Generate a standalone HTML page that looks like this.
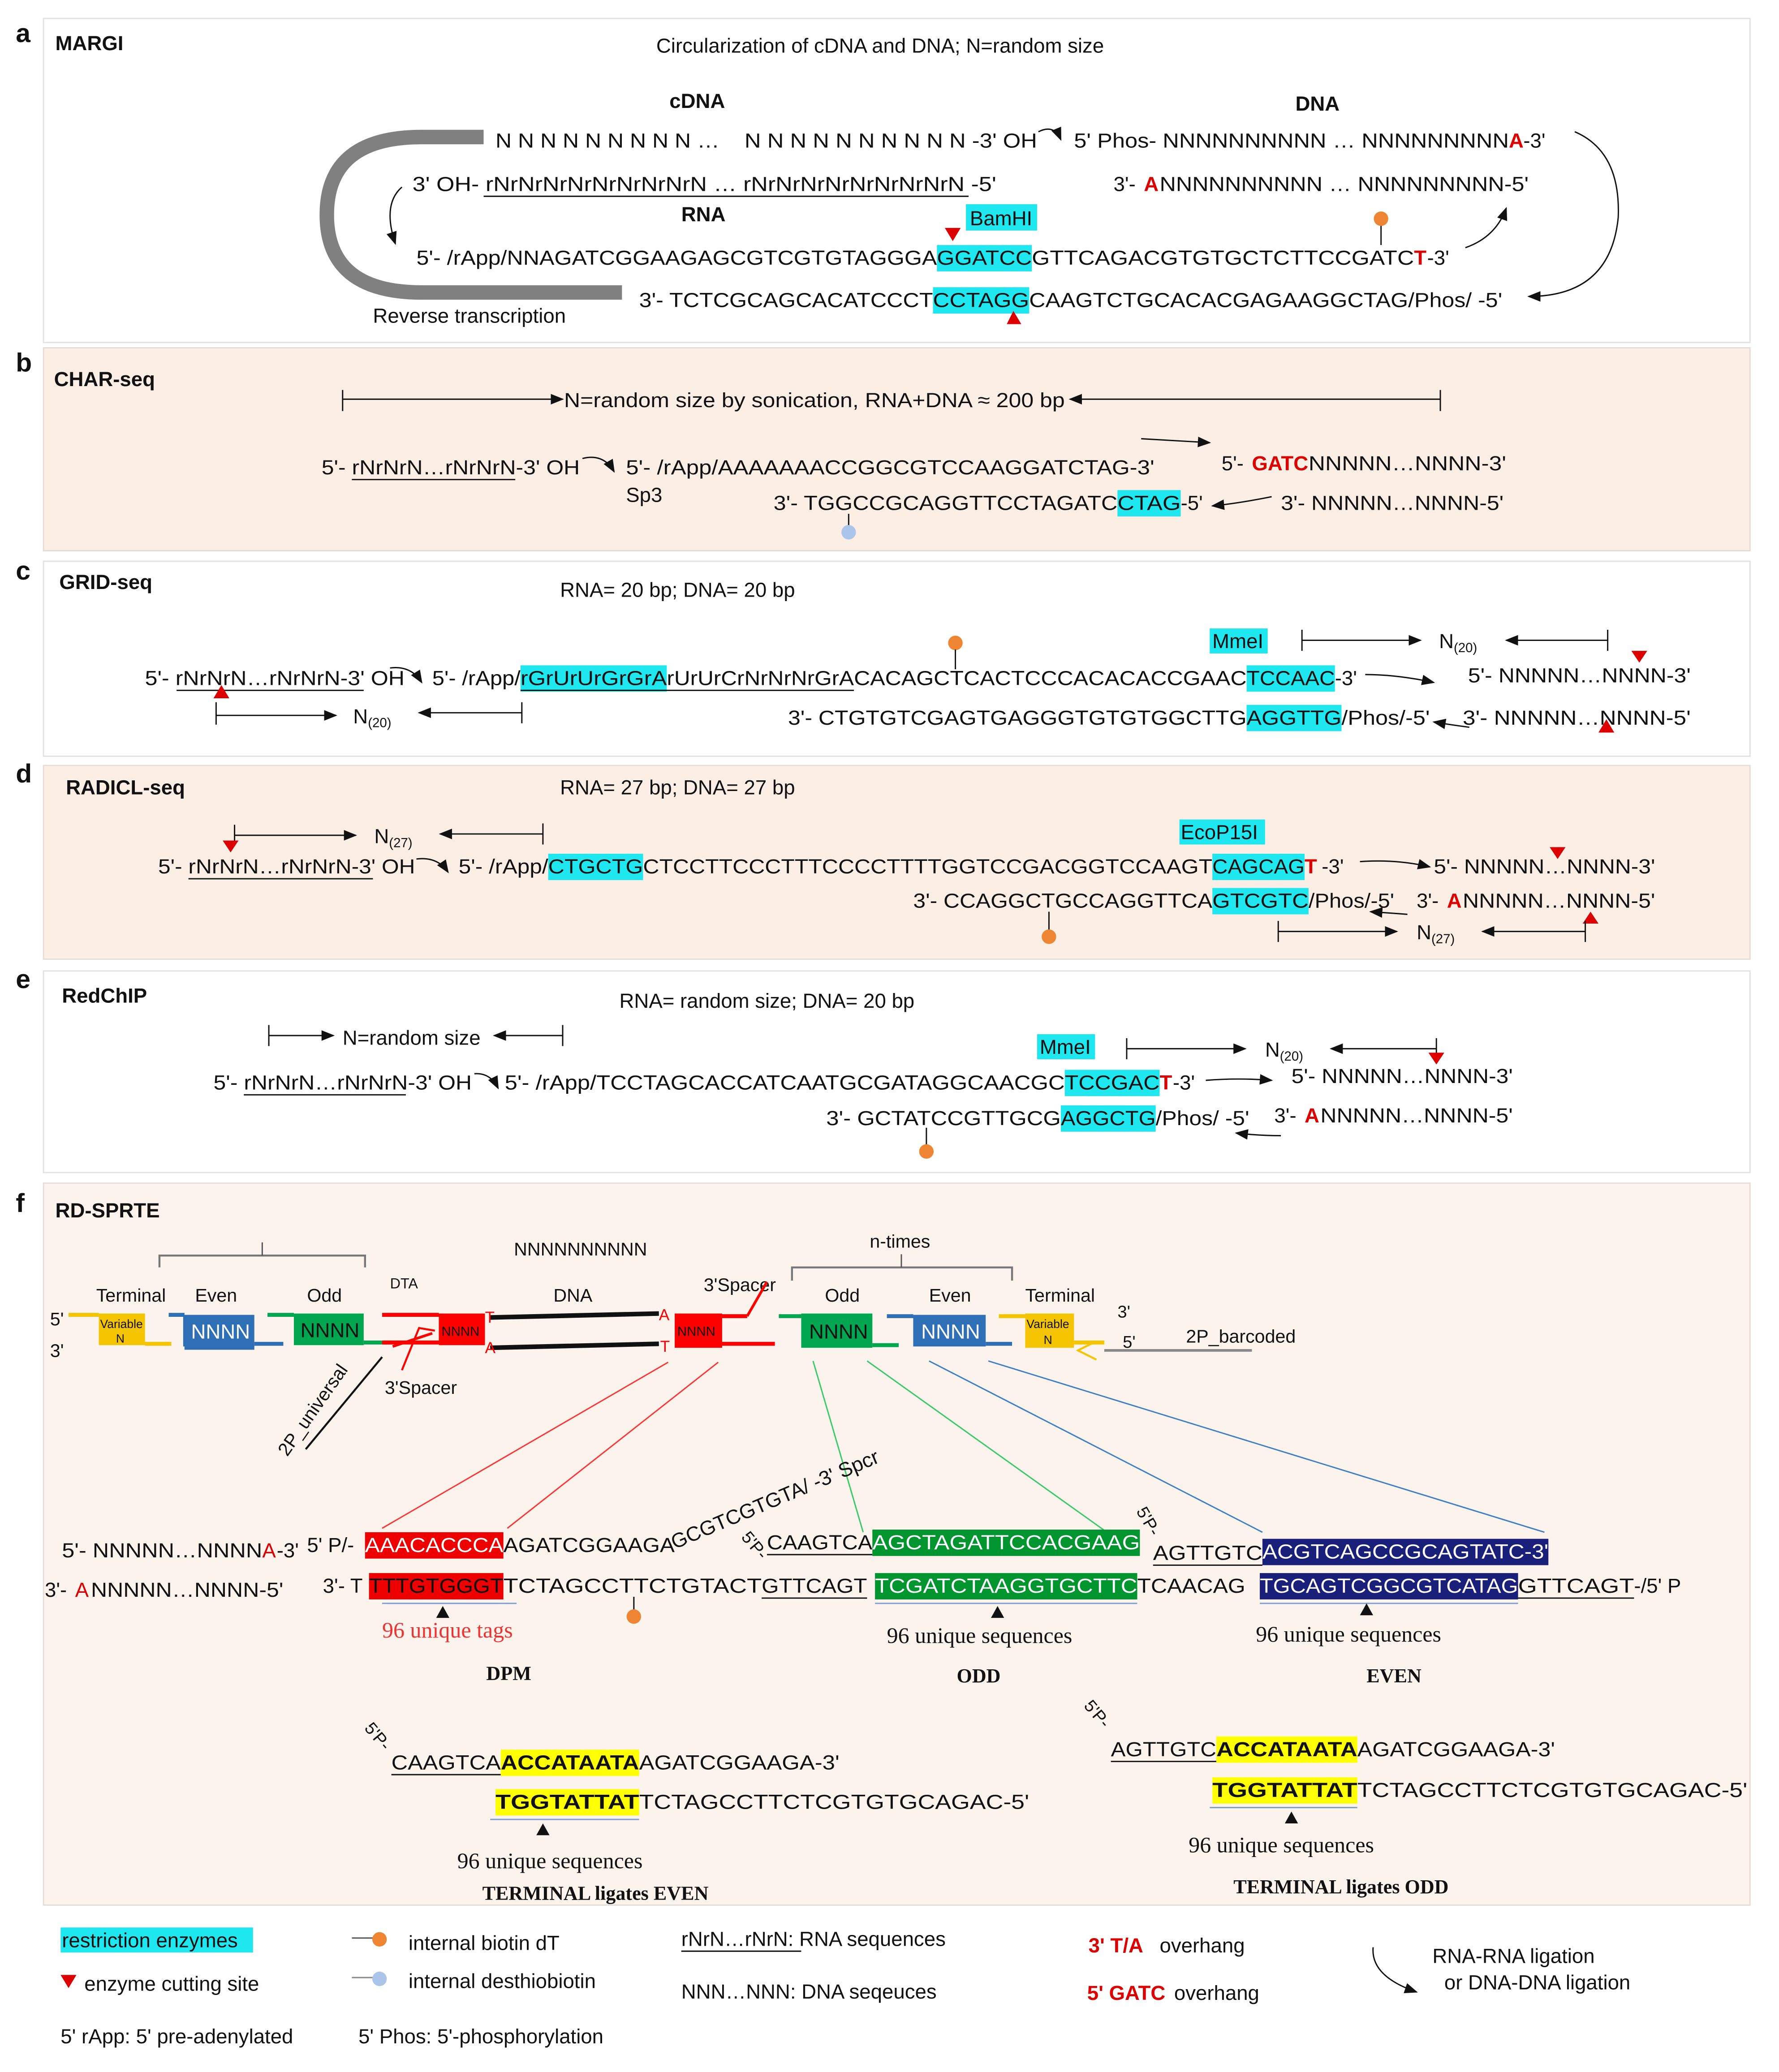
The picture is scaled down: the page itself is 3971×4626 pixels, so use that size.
<!DOCTYPE html>
<html><head><meta charset="utf-8"><style>
html,body{margin:0;padding:0;background:#fff;}
svg{display:block;}
text{font-family:"Liberation Sans",sans-serif;font-size:15.5px;fill:#111;}
.b{font-weight:bold;}
.sr{font-family:"Liberation Serif",serif;}
.w{fill:#fff;}
.r{fill:#d00;font-weight:bold;}
</style></head><body>
<svg width="3971" height="4626" viewBox="0 0 1350 1572.7" preserveAspectRatio="none" xmlns="http://www.w3.org/2000/svg">
<defs>
<marker id="ah" markerWidth="10" markerHeight="8" refX="9" refY="4" orient="auto" markerUnits="userSpaceOnUse"><path d="M0,0 L10,4 L0,8 z" fill="#111"/></marker>
</defs>
<rect width="1350" height="1573" fill="#fff"/>
<rect x="33" y="14" width="1295" height="246" fill="#fff" stroke="#e2e2e2"/>
<rect x="33" y="264" width="1295" height="154" fill="#fbeee5" stroke="#e6ddd6"/>
<rect x="33" y="426" width="1295" height="148" fill="#fff" stroke="#e2e2e2"/>
<rect x="33" y="581" width="1295" height="147" fill="#fbeee5" stroke="#e6ddd6"/>
<rect x="33" y="737" width="1295" height="153" fill="#fff" stroke="#e2e2e2"/>
<rect x="33" y="898" width="1295" height="548" fill="#fcf3ed" stroke="#e6ddd6"/>
<g>
<text x="12" y="32" style="font-size:20px" class="b">a</text>
<text x="12" y="282" style="font-size:20px" class="b">b</text>
<text x="12" y="440" style="font-size:20px" class="b">c</text>
<text x="12" y="594" style="font-size:20px" class="b">d</text>
<text x="12" y="750" style="font-size:20px" class="b">e</text>
<text x="12" y="920" style="font-size:20px" class="b">f</text>
</g>

<!-- ===== Panel a ===== -->
<text x="42" y="38" class="b">MARGI</text>
<text x="498" y="40">Circularization of cDNA and DNA; N=random size</text>
<text x="508" y="82" class="b">cDNA</text>
<text x="983" y="84" class="b">DNA</text>
<path d="M367,104 L320,104 Q248,104 248,163 Q248,222 320,222 L472,222" fill="none" stroke="#808080" stroke-width="11"/>
<text x="376" y="112" textLength="170" lengthAdjust="spacingAndGlyphs">N N N N N N N N N …</text>
<text x="565" y="112" textLength="222" lengthAdjust="spacingAndGlyphs">N N N N N N N N N N  -3' OH</text>
<path d="M788,100 Q800,94 805,106" fill="none" stroke="#111" marker-end="url(#ah)"/>
<text x="815" y="112" textLength="330" lengthAdjust="spacingAndGlyphs">5' Phos- NNNNNNNNNN … NNNNNNNNN</text>
<text x="1145" y="112" class="r">A</text><text x="1156" y="112">-3'</text>
<text x="313" y="145" textLength="443" lengthAdjust="spacingAndGlyphs">3' OH- rNrNrNrNrNrNrNrNrN … rNrNrNrNrNrNrNrNrN -5'</text>
<line x1="367" y1="149" x2="735" y2="149" stroke="#111"/>
<text x="845" y="145">3'-</text>
<text x="868" y="145" class="r">A</text>
<text x="880" y="145" textLength="280" lengthAdjust="spacingAndGlyphs">NNNNNNNNNN … NNNNNNNNN-5'</text>
<text x="517" y="168" class="b">RNA</text>
<rect x="733" y="155" width="54" height="20" fill="#1fe7ef"/><text x="736" y="171">BamHI</text>
<path d="M305,142 Q290,155 300,185" fill="none" stroke="#111" marker-end="url(#ah)"/>
<text x="316" y="201" textLength="395" lengthAdjust="spacingAndGlyphs">5'- /rApp/NNAGATCGGAAGAGCGTCGTGTAGGGA</text>
<rect x="711" y="186" width="72" height="20" fill="#1fe7ef"/>
<text x="711" y="201" textLength="72" lengthAdjust="spacingAndGlyphs">GGATCC</text>
<text x="783" y="201" textLength="290" lengthAdjust="spacingAndGlyphs">GTTCAGACGTGTGCTCTTCCGATC</text>
<text x="1073" y="201" class="r">T</text><text x="1083" y="201">-3'</text>
<path d="M717,173 L729,173 L723,183 z" fill="#d00"/>
<line x1="1048" y1="168" x2="1048" y2="186" stroke="#111"/><circle cx="1048" cy="166" r="5.5" fill="#ee8533"/>
<path d="M1112,188 Q1135,180 1143,158" fill="none" stroke="#111" marker-end="url(#ah)"/>
<path d="M1195,100 Q1230,115 1228,165 Q1222,225 1160,225" fill="none" stroke="#111" marker-end="url(#ah)"/>
<text x="485" y="233" textLength="223" lengthAdjust="spacingAndGlyphs">3'- TCTCGCAGCACATCCCT</text>
<rect x="708" y="218" width="73" height="20" fill="#1fe7ef"/>
<text x="708" y="233" textLength="73" lengthAdjust="spacingAndGlyphs">CCTAGG</text>
<text x="781" y="233" textLength="359" lengthAdjust="spacingAndGlyphs">CAAGTCTGCACACGAGAAGGCTAG/Phos/ -5'</text>
<path d="M764,246 L775,246 L769,236 z" fill="#d00"/>
<text x="283" y="245">Reverse  transcription</text>

<!-- ===== Panel b ===== -->
<text x="41" y="293" class="b">CHAR-seq</text>
<line x1="260" y1="296" x2="260" y2="312" stroke="#111"/>
<line x1="260" y1="303" x2="427" y2="303" stroke="#111" marker-end="url(#ah)"/>
<text x="428" y="309" textLength="380" lengthAdjust="spacingAndGlyphs">N=random size by sonication, RNA+DNA ≈ 200 bp</text>
<line x1="1093" y1="303" x2="812" y2="303" stroke="#111" marker-end="url(#ah)"/>
<line x1="1093" y1="296" x2="1093" y2="312" stroke="#111"/>
<text x="244" y="360" textLength="196" lengthAdjust="spacingAndGlyphs">5'- rNrNrN…rNrNrN-3' OH</text>
<line x1="267" y1="364" x2="391" y2="364" stroke="#111"/>
<path d="M442,348 Q458,344 466,358" fill="none" stroke="#111" marker-end="url(#ah)"/>
<text x="475" y="360" textLength="401" lengthAdjust="spacingAndGlyphs">5'- /rApp/AAAAAAACCGGCGTCCAAGGATCTAG-3'</text>
<text x="475" y="381">Sp3</text>
<line x1="866" y1="333" x2="918" y2="336" stroke="#111" marker-end="url(#ah)"/>
<text x="927" y="357">5'- </text><text x="950" y="357" class="r">GATC</text>
<text x="993" y="357" textLength="150" lengthAdjust="spacingAndGlyphs">NNNNN…NNNN-3'</text>
<text x="587" y="387" textLength="261" lengthAdjust="spacingAndGlyphs">3'- TGGCCGCAGGTTCCTAGATC</text>
<rect x="848" y="372" width="48" height="20" fill="#1fe7ef"/>
<text x="848" y="387" textLength="48" lengthAdjust="spacingAndGlyphs">CTAG</text>
<text x="896" y="387">-5'</text>
<path d="M965,377 Q940,382 920,384" fill="none" stroke="#111" marker-end="url(#ah)"/>
<text x="972" y="387" textLength="169" lengthAdjust="spacingAndGlyphs">3'- NNNNN…NNNN-5'</text>
<line x1="644" y1="390" x2="644" y2="402" stroke="#111"/><circle cx="644" cy="404" r="5.5" fill="#aac4ea"/>

<!-- ===== Panel c ===== -->
<text x="45" y="447" class="b">GRID-seq</text>
<text x="425" y="453">RNA= 20 bp; DNA= 20 bp</text>
<rect x="918" y="477" width="44" height="19" fill="#1fe7ef"/><text x="920" y="492">MmeI</text>
<line x1="988" y1="478" x2="988" y2="494" stroke="#111"/>
<line x1="988" y1="486" x2="1078" y2="486" stroke="#111" marker-end="url(#ah)"/>
<text x="1092" y="492">N<tspan style="font-size:10px" dy="3">(20)</tspan></text>
<line x1="1220" y1="486" x2="1143" y2="486" stroke="#111" marker-end="url(#ah)"/>
<line x1="1220" y1="478" x2="1220" y2="494" stroke="#111"/>
<circle cx="725" cy="488" r="5.5" fill="#ee8533"/><line x1="725" y1="493" x2="725" y2="508" stroke="#111"/>
<text x="110" y="520" textLength="197" lengthAdjust="spacingAndGlyphs">5'- rNrNrN…rNrNrN-3' OH</text>
<line x1="134" y1="524" x2="276" y2="524" stroke="#111"/>
<path d="M296,507 Q312,505 320,518" fill="none" stroke="#111" marker-end="url(#ah)"/>
<text x="328" y="520" textLength="67" lengthAdjust="spacingAndGlyphs">5'- /rApp/</text>
<rect x="395" y="505" width="111" height="20" fill="#1fe7ef"/>
<text x="395" y="520" textLength="111" lengthAdjust="spacingAndGlyphs">rGrUrUrGrGrA</text>
<text x="506" y="520" textLength="142" lengthAdjust="spacingAndGlyphs">rUrUrCrNrNrNrGrA</text>
<line x1="395" y1="524" x2="648" y2="524" stroke="#111"/>
<text x="648" y="520" textLength="298" lengthAdjust="spacingAndGlyphs">CACAGCTCACTCCCACACACCGAAC</text>
<rect x="946" y="505" width="67" height="20" fill="#1fe7ef"/>
<text x="946" y="520" textLength="67" lengthAdjust="spacingAndGlyphs">TCCAAC</text>
<text x="1013" y="520">-3'</text>
<path d="M1036,512 Q1060,512 1088,518" fill="none" stroke="#111" marker-end="url(#ah)"/>
<text x="1114" y="518" textLength="169" lengthAdjust="spacingAndGlyphs">5'- NNNNN…NNNN-3'</text>
<path d="M1238,494 L1250,494 L1244,503 z" fill="#d00"/>
<path d="M162,530 L174,530 L168,520 z" fill="#d00"/>
<line x1="164" y1="533" x2="164" y2="550" stroke="#111"/>
<line x1="164" y1="543" x2="255" y2="543" stroke="#111" marker-end="url(#ah)"/>
<text x="268" y="549">N<tspan style="font-size:10px" dy="3">(20)</tspan></text>
<line x1="396" y1="541" x2="318" y2="541" stroke="#111" marker-end="url(#ah)"/>
<line x1="396" y1="533" x2="396" y2="549" stroke="#111"/>
<text x="598" y="550" textLength="348" lengthAdjust="spacingAndGlyphs">3'- CTGTGTCGAGTGAGGGTGTGTGGCTTG</text>
<rect x="946" y="535" width="72" height="20" fill="#1fe7ef"/>
<text x="946" y="550" textLength="72" lengthAdjust="spacingAndGlyphs">AGGTTG</text>
<text x="1018" y="550" textLength="67" lengthAdjust="spacingAndGlyphs">/Phos/-5'</text>
<path d="M1115,552 Q1100,550 1088,548" fill="none" stroke="#111" marker-end="url(#ah)"/>
<text x="1110" y="550" textLength="173" lengthAdjust="spacingAndGlyphs">3'- NNNNN…NNNN-5'</text>
<path d="M1213,556 L1225,556 L1219,546 z" fill="#d00"/>

<!-- ===== Panel d ===== -->
<text x="50" y="603" class="b">RADICL-seq</text>
<text x="425" y="603">RNA= 27 bp; DNA= 27 bp</text>
<line x1="178" y1="626" x2="178" y2="642" stroke="#111"/>
<line x1="178" y1="634" x2="270" y2="634" stroke="#111" marker-end="url(#ah)"/>
<text x="284" y="640">N<tspan style="font-size:10px" dy="3">(27)</tspan></text>
<line x1="412" y1="633" x2="334" y2="633" stroke="#111" marker-end="url(#ah)"/>
<line x1="412" y1="625" x2="412" y2="641" stroke="#111"/>
<path d="M169,638 L181,638 L175,647 z" fill="#d00"/>
<rect x="895" y="622" width="65" height="19" fill="#1fe7ef"/><text x="896" y="637">EcoP15I</text>
<text x="120" y="663" textLength="195" lengthAdjust="spacingAndGlyphs">5'- rNrNrN…rNrNrN-3' OH</text>
<line x1="143" y1="667" x2="283" y2="667" stroke="#111"/>
<path d="M316,652 Q332,650 340,662" fill="none" stroke="#111" marker-end="url(#ah)"/>
<text x="348" y="663" textLength="68" lengthAdjust="spacingAndGlyphs">5'- /rApp/</text>
<rect x="416" y="648" width="72" height="20" fill="#1fe7ef"/>
<text x="416" y="663" textLength="72" lengthAdjust="spacingAndGlyphs">CTGCTG</text>
<text x="488" y="663" textLength="432" lengthAdjust="spacingAndGlyphs">CTCCTTCCCTTTCCCCTTTTGGTCCGACGGTCCAAGT</text>
<rect x="920" y="648" width="70" height="20" fill="#1fe7ef"/>
<text x="920" y="663" textLength="70" lengthAdjust="spacingAndGlyphs">CAGCAG</text>
<text x="990" y="663" class="r">T</text><text x="1003" y="663"> -3'</text>
<path d="M1032,654 Q1060,652 1085,658" fill="none" stroke="#111" marker-end="url(#ah)"/>
<text x="1088" y="663" textLength="168" lengthAdjust="spacingAndGlyphs">5'- NNNNN…NNNN-3'</text>
<path d="M1176,643 L1188,643 L1182,652 z" fill="#d00"/>
<text x="693" y="689" textLength="227" lengthAdjust="spacingAndGlyphs">3'- CCAGGCTGCCAGGTTCA</text>
<rect x="920" y="674" width="73" height="20" fill="#1fe7ef"/>
<text x="920" y="689" textLength="73" lengthAdjust="spacingAndGlyphs">GTCGTC</text>
<text x="993" y="689" textLength="65" lengthAdjust="spacingAndGlyphs">/Phos/-5'</text>
<path d="M1068,694 Q1055,693 1040,692" fill="none" stroke="#111" marker-end="url(#ah)"/>
<text x="1075" y="689">3'- </text><text x="1098" y="689" class="r">A</text>
<text x="1110" y="689" textLength="146" lengthAdjust="spacingAndGlyphs">NNNNN…NNNN-5'</text>
<path d="M1201,701 L1213,701 L1207,692 z" fill="#d00"/>
<line x1="796" y1="692" x2="796" y2="706" stroke="#111"/><circle cx="796" cy="711" r="5.5" fill="#ee8533"/>
<line x1="970" y1="699" x2="970" y2="715" stroke="#111"/>
<line x1="970" y1="707" x2="1060" y2="707" stroke="#111" marker-end="url(#ah)"/>
<text x="1075" y="713">N<tspan style="font-size:10px" dy="3">(27)</tspan></text>
<line x1="1203" y1="707" x2="1125" y2="707" stroke="#111" marker-end="url(#ah)"/>
<line x1="1203" y1="699" x2="1203" y2="715" stroke="#111"/>

<!-- ===== Panel e ===== -->
<text x="47" y="761" class="b">RedChIP</text>
<text x="470" y="765">RNA= random size; DNA= 20 bp</text>
<line x1="204" y1="778" x2="204" y2="794" stroke="#111"/>
<line x1="204" y1="786" x2="253" y2="786" stroke="#111" marker-end="url(#ah)"/>
<text x="260" y="793">N=random size</text>
<line x1="427" y1="786" x2="375" y2="786" stroke="#111" marker-end="url(#ah)"/>
<line x1="427" y1="778" x2="427" y2="794" stroke="#111"/>
<rect x="787" y="785" width="44" height="19" fill="#1fe7ef"/><text x="789" y="800">MmeI</text>
<line x1="855" y1="788" x2="855" y2="804" stroke="#111"/>
<line x1="855" y1="796" x2="945" y2="796" stroke="#111" marker-end="url(#ah)"/>
<text x="960" y="802">N<tspan style="font-size:10px" dy="3">(20)</tspan></text>
<line x1="1090" y1="796" x2="1010" y2="796" stroke="#111" marker-end="url(#ah)"/>
<line x1="1090" y1="788" x2="1090" y2="800" stroke="#111"/>
<path d="M1084,799 L1096,799 L1090,808 z" fill="#d00"/>
<text x="162" y="827" textLength="196" lengthAdjust="spacingAndGlyphs">5'- rNrNrN…rNrNrN-3' OH</text>
<line x1="185" y1="831" x2="308" y2="831" stroke="#111"/>
<path d="M360,815 Q372,814 378,826" fill="none" stroke="#111" marker-end="url(#ah)"/>
<text x="383" y="827" textLength="425" lengthAdjust="spacingAndGlyphs">5'- /rApp/TCCTAGCACCATCAATGCGATAGGCAACGC</text>
<rect x="808" y="812" width="72" height="20" fill="#1fe7ef"/>
<text x="808" y="827" textLength="72" lengthAdjust="spacingAndGlyphs">TCCGAC</text>
<text x="880" y="827" class="r">T</text><text x="890" y="827">-3'</text>
<path d="M915,820 Q940,818 965,820" fill="none" stroke="#111" marker-end="url(#ah)"/>
<text x="980" y="822" textLength="168" lengthAdjust="spacingAndGlyphs">5'- NNNNN…NNNN-3'</text>
<text x="627" y="854" textLength="178" lengthAdjust="spacingAndGlyphs">3'- GCTATCCGTTGCG</text>
<rect x="805" y="839" width="72" height="20" fill="#1fe7ef"/>
<text x="805" y="854" textLength="72" lengthAdjust="spacingAndGlyphs">AGGCTG</text>
<text x="877" y="854" textLength="71" lengthAdjust="spacingAndGlyphs">/Phos/ -5'</text>
<path d="M972,862 Q955,862 938,860" fill="none" stroke="#111" marker-end="url(#ah)"/>
<text x="967" y="852">3'- </text><text x="990" y="852" class="r">A</text>
<text x="1002" y="852" textLength="146" lengthAdjust="spacingAndGlyphs">NNNNN…NNNN-5'</text>
<line x1="703" y1="856" x2="703" y2="869" stroke="#111"/><circle cx="703" cy="874" r="5.5" fill="#ee8533"/>

<!-- ===== Panel f ===== -->
<text x="42" y="924" class="b">RD-SPRTE</text>
<path d="M121,962 L121,953 L277,953 L277,962" fill="none" stroke="#777" stroke-width="1.5"/>
<line x1="199" y1="953" x2="199" y2="943" stroke="#555"/>
<text x="390" y="953" style="font-size:14px">NNNNNNNNNN</text>
<text x="660" y="947" style="font-size:14px">n-times</text>
<path d="M601,972 L601,962 L768,962 L768,972" fill="none" stroke="#777" stroke-width="1.5"/>
<line x1="684" y1="962" x2="684" y2="952" stroke="#555"/>
<g>
<text x="73" y="988" style="font-size:14px">Terminal</text>
<text x="148" y="988" style="font-size:14px">Even</text>
<text x="233" y="988" style="font-size:14px">Odd</text>
<text x="296" y="978" style="font-size:11px">DTA</text>
<text x="420" y="988" style="font-size:14px">DNA</text>
<text x="534" y="980" style="font-size:14px">3'Spacer</text>
<text x="626" y="988" style="font-size:14px">Odd</text>
<text x="705" y="988" style="font-size:14px">Even</text>
<text x="778" y="988" style="font-size:14px">Terminal</text>
<text x="38" y="1006" style="font-size:14px">5'</text>
<text x="38" y="1030" style="font-size:14px">3'</text>
<text x="848" y="1000" style="font-size:13px">3'</text>
<text x="852" y="1023" style="font-size:13px">5'</text>
<text x="900" y="1019" style="font-size:14px">2P_barcoded</text>
<text x="292" y="1058" style="font-size:14px">3'Spacer</text>
</g>
<g stroke-width="3">
<line x1="52" y1="998" x2="75" y2="998" stroke="#f5c400"/>
<line x1="110" y1="1020" x2="130" y2="1020" stroke="#f5c400"/>
<line x1="128" y1="998" x2="140" y2="998" stroke="#2e6fb5"/>
<line x1="193" y1="1020" x2="215" y2="1020" stroke="#2e6fb5"/>
<line x1="140" y1="1023" x2="193" y2="1023" stroke="#2e6fb5"/>
<line x1="203" y1="998" x2="223" y2="998" stroke="#00a650"/>
<line x1="276" y1="1019" x2="297" y2="1019" stroke="#00a650"/>
<line x1="290" y1="998" x2="333" y2="998" stroke="#f00"/>
<line x1="290" y1="1019" x2="333" y2="1019" stroke="#f00"/>
<line x1="372" y1="1000" x2="500" y2="997" stroke="#111" stroke-width="3.5"/>
<line x1="372" y1="1023" x2="500" y2="1020" stroke="#111" stroke-width="3.5"/>
<line x1="548" y1="999" x2="567" y2="999" stroke="#f00"/>
<line x1="548" y1="1020" x2="588" y2="1020" stroke="#f00"/>
<line x1="591" y1="999" x2="608" y2="999" stroke="#00a650"/>
<line x1="662" y1="1021" x2="682" y2="1021" stroke="#00a650"/>
<line x1="673" y1="999" x2="693" y2="999" stroke="#2e6fb5"/>
<line x1="748" y1="1020" x2="768" y2="1020" stroke="#2e6fb5"/>
<line x1="758" y1="999" x2="778" y2="999" stroke="#f5c400"/>
<line x1="815" y1="1019" x2="838" y2="1019" stroke="#f5c400"/>
</g>
<line x1="567" y1="999" x2="582" y2="973" stroke="#f00" stroke-width="2"/>
<line x1="838" y1="1025" x2="950" y2="1025" stroke="#888" stroke-width="2"/>
<path d="M830,1019 L818,1025 L832,1032" fill="none" stroke="#f5c400" stroke-width="1.5"/>
<line x1="298" y1="1022" x2="328" y2="1012" stroke="#f00" stroke-width="2"/>
<path d="M305,1040 L318,1008 L330,1010" fill="none" stroke="#f00" stroke-width="1.5"/>
<line x1="232" y1="1100" x2="290" y2="1030" stroke="#111" stroke-width="1.5"/>
<text transform="translate(218,1106) rotate(-55)" style="font-size:14px">2P_universal</text>
<rect x="75" y="997" width="35" height="24" fill="#f5c400"/>
<text x="76" y="1008" style="font-size:9px">Variable</text><text x="88" y="1019" style="font-size:9px">N</text>
<rect x="139" y="998" width="54" height="24" fill="#2e6fb5"/><text x="145" y="1016" class="w">NNNN</text>
<rect x="223" y="997" width="53" height="24" fill="#00a650"/><text x="228" y="1015">NNNN</text>
<rect x="333" y="997" width="35" height="24" fill="#f00"/><text x="335" y="1014" style="font-size:10px">NNNN</text>
<text x="368" y="1004" style="font-size:12px;fill:#f00">T</text><text x="368" y="1027" style="font-size:12px;fill:#f00">A</text>
<text x="500" y="1002" style="font-size:12px;fill:#f00">A</text><text x="501" y="1026" style="font-size:12px;fill:#f00">T</text>
<rect x="512" y="997" width="36" height="26" fill="#f00"/><text x="514" y="1014" style="font-size:10px">NNNN</text>
<rect x="608" y="997" width="54" height="26" fill="#00a650"/><text x="614" y="1016">NNNN</text>
<rect x="693" y="998" width="55" height="24" fill="#2e6fb5"/><text x="699" y="1016" class="w">NNNN</text>
<rect x="778" y="997" width="37" height="26" fill="#f5c400"/>
<text x="779" y="1008" style="font-size:9px">Variable</text><text x="792" y="1020" style="font-size:9px">N</text>
<line x1="507" y1="1034" x2="290" y2="1160" stroke="#f33" stroke-width="1"/>
<line x1="545" y1="1034" x2="385" y2="1160" stroke="#f33" stroke-width="1"/>
<line x1="617" y1="1033" x2="655" y2="1163" stroke="#3c6" stroke-width="1"/>
<line x1="658" y1="1033" x2="840" y2="1163" stroke="#3c6" stroke-width="1"/>
<line x1="705" y1="1033" x2="958" y2="1163" stroke="#3a7fcc" stroke-width="1"/>
<line x1="750" y1="1033" x2="1172" y2="1163" stroke="#3a7fcc" stroke-width="1"/>
<text x="47" y="1182" textLength="152" lengthAdjust="spacingAndGlyphs">5'- NNNNN…NNNN</text><text x="199" y="1182" style="fill:#d00">A</text><text x="210" y="1182">-3'</text>
<text x="233" y="1178">5' P/-</text>
<rect x="277" y="1163" width="105" height="20" fill="#e00"/>
<text x="277" y="1178" class="w" textLength="105" lengthAdjust="spacingAndGlyphs">AAACACCCA</text>
<text x="382" y="1178" textLength="130" lengthAdjust="spacingAndGlyphs">AGATCGGAAGA</text>
<text transform="translate(512,1176) rotate(-23)">GCGTCGTGTA/ -3' Spcr</text>
<text transform="translate(562,1167) rotate(50)" style="font-size:13px">5'P-</text>
<text x="582" y="1176" textLength="80" lengthAdjust="spacingAndGlyphs">CAAGTCA</text>
<line x1="582" y1="1180" x2="662" y2="1180" stroke="#111"/>
<rect x="662" y="1161" width="203" height="20" fill="#00952f"/>
<text x="662" y="1176" class="w" textLength="203" lengthAdjust="spacingAndGlyphs">AGCTAGATTCCACGAAG</text>
<text transform="translate(862,1147) rotate(60)" style="font-size:13px">5'P-</text>
<text x="875" y="1184" textLength="83" lengthAdjust="spacingAndGlyphs">AGTTGTC</text>
<line x1="875" y1="1188" x2="958" y2="1188" stroke="#111"/>
<rect x="958" y="1168" width="217" height="20" fill="#1a1f7a"/>
<text x="958" y="1183" class="w" textLength="217" lengthAdjust="spacingAndGlyphs">ACGTCAGCCGCAGTATC-3'</text>
<text x="34" y="1212">3'- </text><text x="57" y="1212" style="fill:#d00">A</text><text x="69" y="1212" textLength="146" lengthAdjust="spacingAndGlyphs">NNNNN…NNNN-5'</text>
<text x="245" y="1209">3'- T</text>
<rect x="280" y="1194" width="102" height="20" fill="#e00"/>
<text x="280" y="1209" textLength="102" lengthAdjust="spacingAndGlyphs">TTTGTGGGT</text>
<text x="382" y="1209" textLength="196" lengthAdjust="spacingAndGlyphs">TCTAGCCTTCTGTACT</text>
<text x="578" y="1209" textLength="80" lengthAdjust="spacingAndGlyphs">GTTCAGT</text>
<line x1="578" y1="1213" x2="658" y2="1213" stroke="#111"/>
<rect x="664" y="1194" width="199" height="20" fill="#00952f"/>
<text x="664" y="1209" class="w" textLength="199" lengthAdjust="spacingAndGlyphs">TCGATCTAAGGTGCTTC</text>
<text x="863" y="1209" textLength="82" lengthAdjust="spacingAndGlyphs">TCAACAG</text>
<rect x="956" y="1194" width="196" height="20" fill="#1a1f7a"/>
<text x="956" y="1209" class="w" textLength="196" lengthAdjust="spacingAndGlyphs">TGCAGTCGGCGTCATAG</text>
<text x="1152" y="1209" textLength="88" lengthAdjust="spacingAndGlyphs">GTTCAGT</text>
<line x1="1152" y1="1213" x2="1240" y2="1213" stroke="#111"/>
<text x="1240" y="1209">-/5' P</text>
<line x1="290" y1="1217" x2="392" y2="1217" stroke="#7b9fd4"/>
<line x1="664" y1="1217" x2="863" y2="1217" stroke="#7b9fd4"/>
<line x1="956" y1="1217" x2="1152" y2="1217" stroke="#7b9fd4"/>
<path d="M331,1228 L341,1228 L336,1219 z" fill="#111"/>
<path d="M752,1228 L762,1228 L757,1219 z" fill="#111"/>
<path d="M1032,1226 L1042,1226 L1037,1217 z" fill="#111"/>
<line x1="481" y1="1212" x2="481" y2="1222" stroke="#111"/><circle cx="481" cy="1227" r="5.5" fill="#ee8533"/>
<text x="290" y="1243" class="sr" style="font-size:17px;fill:#e33">96 unique tags</text>
<text x="673" y="1247" class="sr" style="font-size:17px">96 unique sequences</text>
<text x="953" y="1246" class="sr" style="font-size:17px">96 unique sequences</text>
<text x="369" y="1275" class="sr b" style="font-size:15px">DPM</text>
<text x="726" y="1277" class="sr b" style="font-size:15px">ODD</text>
<text x="1037" y="1277" class="sr b" style="font-size:15px">EVEN</text>
<text transform="translate(276,1312) rotate(50)" style="font-size:13px">5'P-</text>
<text x="297" y="1343" textLength="83" lengthAdjust="spacingAndGlyphs">CAAGTCA</text>
<line x1="297" y1="1347" x2="380" y2="1347" stroke="#111"/>
<rect x="380" y="1328" width="105" height="20" fill="#ffff00"/>
<text x="380" y="1343" class="b" textLength="105" lengthAdjust="spacingAndGlyphs">ACCATAATA</text>
<text x="485" y="1343" textLength="152" lengthAdjust="spacingAndGlyphs">AGATCGGAAGA-3'</text>
<rect x="376" y="1358" width="109" height="20" fill="#ffff00"/>
<text x="376" y="1373" class="b" textLength="109" lengthAdjust="spacingAndGlyphs">TGGTATTAT</text>
<text x="485" y="1373" textLength="296" lengthAdjust="spacingAndGlyphs">TCTAGCCTTCTCGTGTGCAGAC-5'</text>
<line x1="372" y1="1381" x2="485" y2="1381" stroke="#7b9fd4"/>
<path d="M407,1393 L417,1393 L412,1384 z" fill="#111"/>
<text x="347" y="1418" class="sr" style="font-size:17px">96 unique sequences</text>
<text x="366" y="1442" class="sr b" style="font-size:15px">TERMINAL ligates EVEN</text>
<text transform="translate(822,1295) rotate(50)" style="font-size:13px">5'P-</text>
<text x="843" y="1333" textLength="80" lengthAdjust="spacingAndGlyphs">AGTTGTC</text>
<line x1="843" y1="1337" x2="923" y2="1337" stroke="#111"/>
<rect x="923" y="1318" width="107" height="20" fill="#ffff00"/>
<text x="923" y="1333" class="b" textLength="107" lengthAdjust="spacingAndGlyphs">ACCATAATA</text>
<text x="1030" y="1333" textLength="150" lengthAdjust="spacingAndGlyphs">AGATCGGAAGA-3'</text>
<rect x="920" y="1349" width="110" height="20" fill="#ffff00"/>
<text x="920" y="1364" class="b" textLength="110" lengthAdjust="spacingAndGlyphs">TGGTATTAT</text>
<text x="1030" y="1364" textLength="296" lengthAdjust="spacingAndGlyphs">TCTAGCCTTCTCGTGTGCAGAC-5'</text>
<line x1="918" y1="1372" x2="1030" y2="1372" stroke="#7b9fd4"/>
<path d="M975,1384 L985,1384 L980,1375 z" fill="#111"/>
<text x="902" y="1406" class="sr" style="font-size:17px">96 unique sequences</text>
<text x="936" y="1437" class="sr b" style="font-size:15px">TERMINAL ligates ODD</text>

<!-- ===== Legend ===== -->
<rect x="46" y="1463" width="146" height="19" fill="#1fe7ef"/>
<text x="47" y="1478">restriction enzymes</text>
<path d="M46,1499 L58,1499 L52,1509 z" fill="#d00"/>
<text x="64" y="1511">enzyme cutting site</text>
<text x="46" y="1551">5' rApp:  5' pre-adenylated</text>
<text x="272" y="1551">5' Phos: 5'-phosphorylation</text>
<line x1="267" y1="1471" x2="283" y2="1471" stroke="#555"/><circle cx="288" cy="1472" r="5.5" fill="#ee8533"/>
<text x="310" y="1480">internal biotin dT</text>
<line x1="267" y1="1501" x2="283" y2="1501" stroke="#888"/><circle cx="288" cy="1502" r="5.5" fill="#aac4ea"/>
<text x="310" y="1509">internal desthiobiotin</text>
<text x="517" y="1477">rNrN…rNrN:  RNA sequences</text>
<line x1="517" y1="1481" x2="608" y2="1481" stroke="#111"/>
<text x="517" y="1517">NNN…NNN:  DNA seqeuces</text>
<text x="826" y="1482" class="r">3' T/A</text><text x="880" y="1482"> overhang</text>
<text x="825" y="1518" class="r">5' GATC</text><text x="891" y="1518"> overhang</text>
<path d="M1042,1478 Q1040,1500 1075,1512" fill="none" stroke="#111" marker-end="url(#ah)"/>
<text x="1087" y="1490">RNA-RNA ligation</text>
<text x="1096" y="1510">or DNA-DNA ligation</text>
</svg>
</body></html>
